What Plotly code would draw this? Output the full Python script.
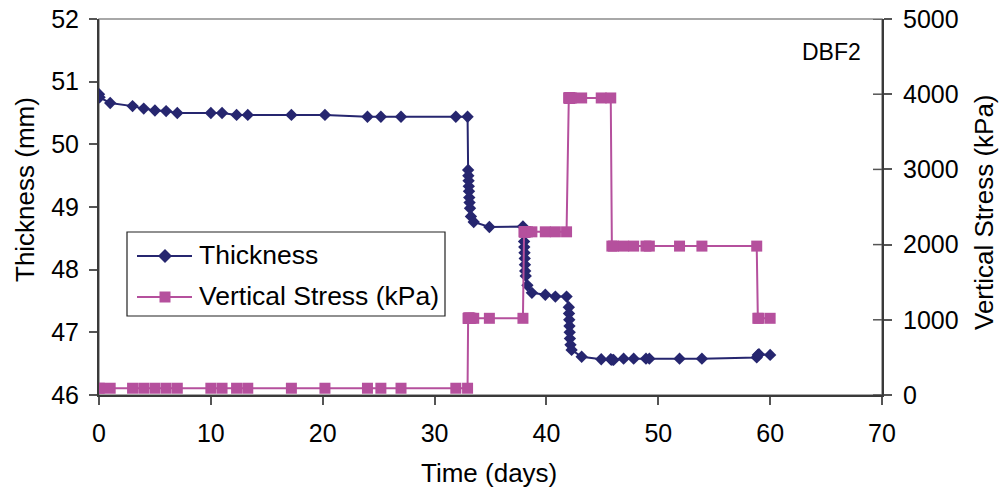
import plotly.graph_objects as go

# Consolidation test DBF2: sample thickness and applied vertical stress over time
time_days = [
    0, 0.05, 1, 3, 4, 5, 6, 7, 10, 11, 12.3, 13.3, 17.2, 20.2, 24, 25.2, 27, 31.9, 32.95,
    33.0, 33.02, 33.04, 33.06, 33.08, 33.1, 33.13, 33.17, 33.25, 33.5, 34.9, 37.9,
    38.0, 38.02, 38.04, 38.06, 38.08, 38.1, 38.15, 38.3, 38.7, 39.9, 40.8, 41.8,
    42.0, 42.02, 42.04, 42.06, 42.08, 42.1, 42.15, 42.25, 43.15, 44.9, 45.75,
    45.85, 46.0, 46.9, 47.8, 48.9, 49.2, 51.9, 53.9, 58.8,
    58.9, 59.0, 60.0,
]

thickness_mm = [
    50.80, 50.75, 50.66, 50.61, 50.57, 50.54, 50.53, 50.50, 50.50, 50.50, 50.47, 50.47, 50.47, 50.47, 50.44, 50.44, 50.44, 50.44, 50.44,
    49.59, 49.50, 49.42, 49.33, 49.25, 49.15, 49.07, 48.98, 48.85, 48.76, 48.68, 48.69,
    48.45, 48.36, 48.27, 48.18, 48.08, 47.98, 47.90, 47.75, 47.63, 47.60, 47.57, 47.57,
    47.40, 47.30, 47.20, 47.10, 47.00, 46.90, 46.80, 46.72, 46.61, 46.57, 46.57,
    46.56, 46.56, 46.58, 46.58, 46.58, 46.58, 46.58, 46.58, 46.60,
    46.64, 46.65, 46.64,
]

vertical_stress_kpa = (
    [90] * 19
    + [1020] * 12
    + [2170] * 12
    + [3950] * 11
    + [1980] * 9
    + [1020] * 3
)

thickness_ticks = [46, 47, 48, 49, 50, 51, 52]
stress_ticks = [0, 1000, 2000, 3000, 4000, 5000]
time_ticks = [0, 10, 20, 30, 40, 50, 60, 70]

NAVY = "#26266f"
MAGENTA = "#b5509d"
AXIS = "#3a3a3a"
FONT = "Liberation Sans, Arial, sans-serif"
FS_TICK = 25
FS_TITLE = 26
FS_LEGEND = 26.5

fig = go.Figure()

fig.add_trace(go.Scatter(
    x=time_days, y=thickness_mm, name="Thickness", mode="lines+markers",
    line=dict(color=NAVY, width=2),
    marker=dict(symbol="diamond", size=9.5, color=NAVY),
    yaxis="y",
))
fig.add_trace(go.Scatter(
    x=time_days, y=vertical_stress_kpa, name="Vertical Stress (kPa)", mode="lines+markers",
    line=dict(color=MAGENTA, width=2),
    marker=dict(symbol="square", size=11, color=MAGENTA),
    yaxis="y2",
))

W, H = 1000, 498
ML, MR, MT, MB = 99, 118, 19, 103
PW, PH = W - ML - MR, H - MT - MB


def px_x(p):
    return (p - ML) / PW


def px_y(p):
    return (H - MB - p) / PH


shapes = [
    # plot-area frame
    dict(type="rect", xref="paper", yref="paper", x0=0, x1=1, y0=0, y1=1,
         line=dict(color="#8c8c8c", width=1.5), layer="below"),
]
# inner half of the crossing ticks on the stress axis
for v in stress_ticks:
    shapes.append(dict(type="line", xref="paper", yref="y2",
                       x0=1 - 9 / PW, x1=1, y0=v, y1=v,
                       line=dict(color="#555555", width=1.5)))

# legend box
lx0, lx1, ly0, ly1 = px_x(127), px_x(445), px_y(316), px_y(232)
shapes.append(dict(type="rect", xref="paper", yref="paper", x0=lx0, x1=lx1, y0=ly0, y1=ly1,
                   line=dict(color="#222222", width=1.2), fillcolor="white", layer="above"))
legend_rows = [
    ("Thickness", NAVY, "diamond", px_y(256)),
    ("Vertical Stress (kPa)", MAGENTA, "square", px_y(297)),
]
annotations = []
for label, color, sym, yy in legend_rows:
    shapes.append(dict(type="line", xref="paper", yref="paper",
                       x0=px_x(137), x1=px_x(192), y0=yy, y1=yy,
                       line=dict(color=color, width=2), layer="above"))
    if sym == "diamond":
        path = "M-7,0 L0,7 L7,0 L0,-7 Z"
    else:
        path = "M-5.5,-5.5 L5.5,-5.5 L5.5,5.5 L-5.5,5.5 Z"
    shapes.append(dict(type="path", xref="paper", yref="paper",
                       xsizemode="pixel", ysizemode="pixel",
                       xanchor=px_x(165), yanchor=yy, path=path,
                       fillcolor=color, line=dict(color=color, width=0), layer="above"))
    annotations.append(dict(xref="paper", yref="paper", x=px_x(197), y=yy + 1.5 / PH,
                            text=label, showarrow=False, xanchor="left", yanchor="middle",
                            font=dict(family=FONT, size=FS_LEGEND, color="black")))

annotations += [
    dict(xref="paper", yref="paper", x=px_x(863), y=px_y(52), text="DBF2",
         showarrow=False, xanchor="right", yanchor="middle",
         font=dict(family=FONT, size=23, color="black")),
    dict(xref="paper", yref="paper", x=px_x(489), y=px_y(473), text="Time (days)",
         showarrow=False, xanchor="center", yanchor="middle",
         font=dict(family=FONT, size=FS_TITLE, color="black")),
    dict(xref="paper", yref="paper", x=px_x(25), y=px_y(190), text="Thickness (mm)",
         showarrow=False, textangle=-90, xanchor="center", yanchor="middle",
         font=dict(family=FONT, size=FS_TITLE, color="black")),
    dict(xref="paper", yref="paper", x=px_x(984), y=px_y(212), text="Vertical Stress (kPa)",
         showarrow=False, textangle=-90, xanchor="center", yanchor="middle",
         font=dict(family=FONT, size=FS_TITLE, color="black")),
]

axis_common = dict(
    showgrid=False, zeroline=False, showline=True, linecolor=AXIS, linewidth=2,
    ticks="outside", ticklen=8, tickwidth=1.5, tickcolor="#555555",
    tickfont=dict(family=FONT, size=FS_TICK, color="black"),
)

fig.update_layout(
    width=W, height=H,
    margin=dict(l=ML, r=MR, t=MT, b=MB, autoexpand=False),
    paper_bgcolor="white", plot_bgcolor="white",
    showlegend=False,
    xaxis=dict(range=[0, 70], tickvals=time_ticks, ticklabelstandoff=7, **axis_common),
    yaxis=dict(range=[46, 52], tickvals=thickness_ticks, ticklabelstandoff=5, **axis_common),
    yaxis2=dict(range=[0, 5000], tickvals=stress_ticks, overlaying="y", side="right",
                ticklabelstandoff=6, **axis_common),
    shapes=shapes,
    annotations=annotations,
)

fig.write_html("out.html")
